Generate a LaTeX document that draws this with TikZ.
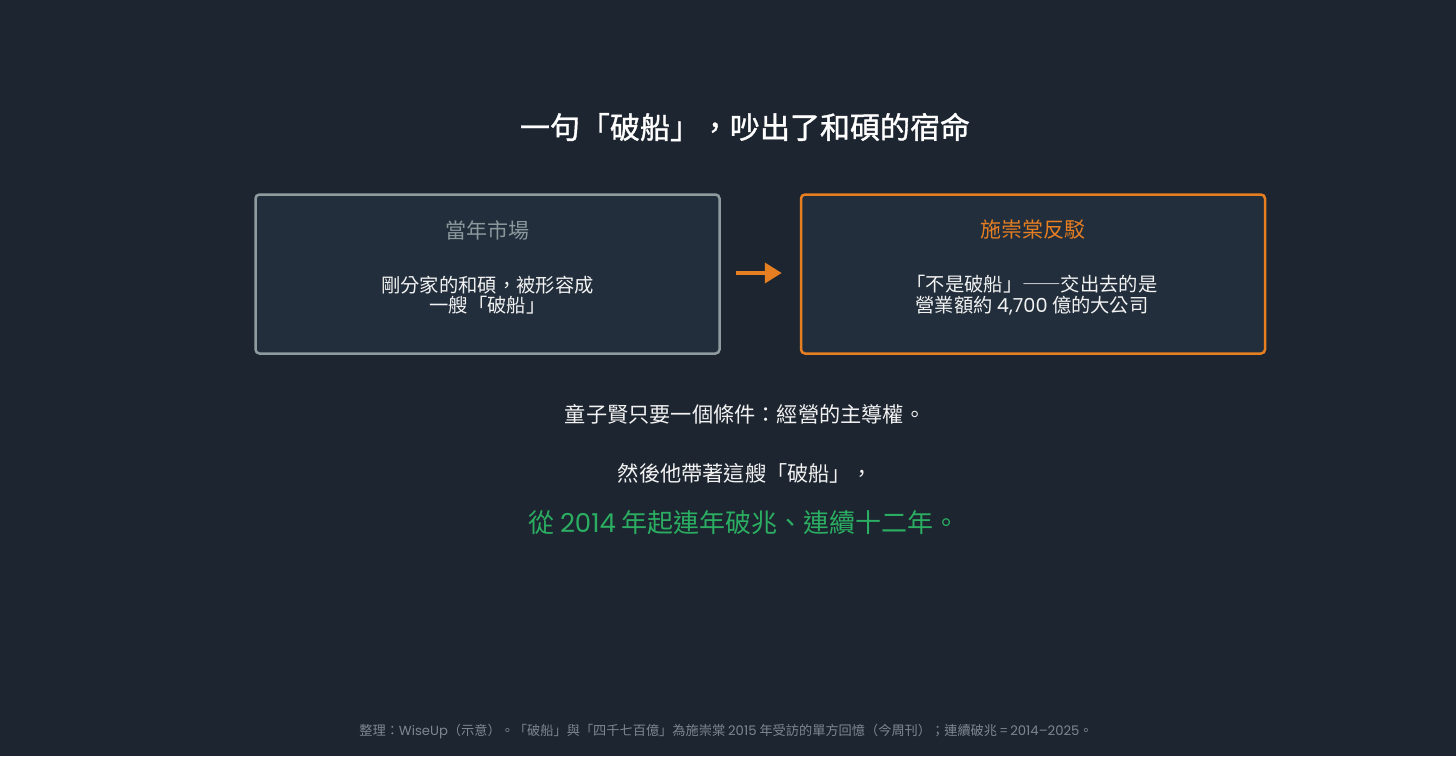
\documentclass[tikz,border=0pt]{standalone}
\usepackage{fontspec}
\setmainfont{Noto Sans CJK TC}
\newfontfamily\latf{Poppins}
\newfontfamily\titlef{Noto Sans CJK TC}[FakeBold=1.2]
\newcommand{\lat}[1]{{\latf #1}}
\newcommand{\wdash}{{\addfontfeatures{RawFeature=+fwid}——}}
\usetikzlibrary{positioning,arrows.meta,calc}
\definecolor{bgdark}{HTML}{1D2530}
\definecolor{boxfill}{HTML}{222E3B}
\definecolor{greyline}{HTML}{8E9B9F}
\definecolor{orangeline}{HTML}{E67E22}
\definecolor{greentext}{HTML}{2BAE62}
\definecolor{greyhead}{HTML}{8C979C}
\definecolor{footgrey}{HTML}{7D8791}
\definecolor{bodytext}{HTML}{F2F2F2}

\begin{document}
\begin{tikzpicture}[x=1pt,y=-1pt]
   \tikzstyle{panel}=[rectangle, rounded corners=4pt, line width=2.5pt, fill=boxfill, minimum width=464pt, minimum height=159pt, inner sep=0pt]
   \tikzstyle{head}=[font=\fontsize{21}{24}\selectfont]
   \tikzstyle{body}=[text=bodytext, align=center, font=\fontsize{19.3}{20.5}\selectfont]
   \tikzstyle{line}=[text=bodytext, font=\fontsize{21.2}{24}\selectfont]
   \fill[bgdark] (0,0) rectangle (1456,756);
   \node[text=white, font=\fontsize{30}{34}\selectfont\titlef] (title) at (745,127) {一句「破船」，吵出了和碩的宿命};
   % the two panels
   \node[panel, draw=greyline] (market) at (487.5,274) {};
   \node[panel, draw=orangeline] (shih) at (1033,274) {};
   \node[head, text=greyhead] (markethead) at (487.5,230) {當年市場};
   \node[body] (marketbody) at (487.5,295) {剛分家的和碩，被形容成\\一艘「破船」};
   \node[head, text=orangeline] (shihhead) at (1033,230) {施崇棠反駁};
   \node[body] (shihbody) at (1032,295) {「不是破船」\wdash 交出去的是\\營業額約 \lat{4,700} 億的大公司};
   \draw[orangeline, line width=4pt, -{Triangle[length=17pt,width=20pt]}, shorten <=15pt, shorten >=18pt] (market.east |- 0,273) -- (shih.west |- 0,273);
   % lines below
   \node[line] (control) at (745,414) {童子賢只要一個條件：經營的主導權。};
   \node[line] (carry) at (745,473) {然後他帶著這艘「破船」，};
   \node[text=greentext, font=\fontsize{26}{28}\selectfont] (trillion) at (744,523) {從 \lat{2014} 年起連年破兆、連續十二年。};
   \node[text=footgrey, font=\fontsize{13.2}{15}\selectfont] (source) at (726,732) {整理：\lat{WiseUp}（示意）。「破船」與「四千七百億」為施崇棠 \lat{2015} 年受訪的單方回憶（今周刊）；連續破兆 = \lat{2014–2025}。};
\end{tikzpicture}
\end{document}
